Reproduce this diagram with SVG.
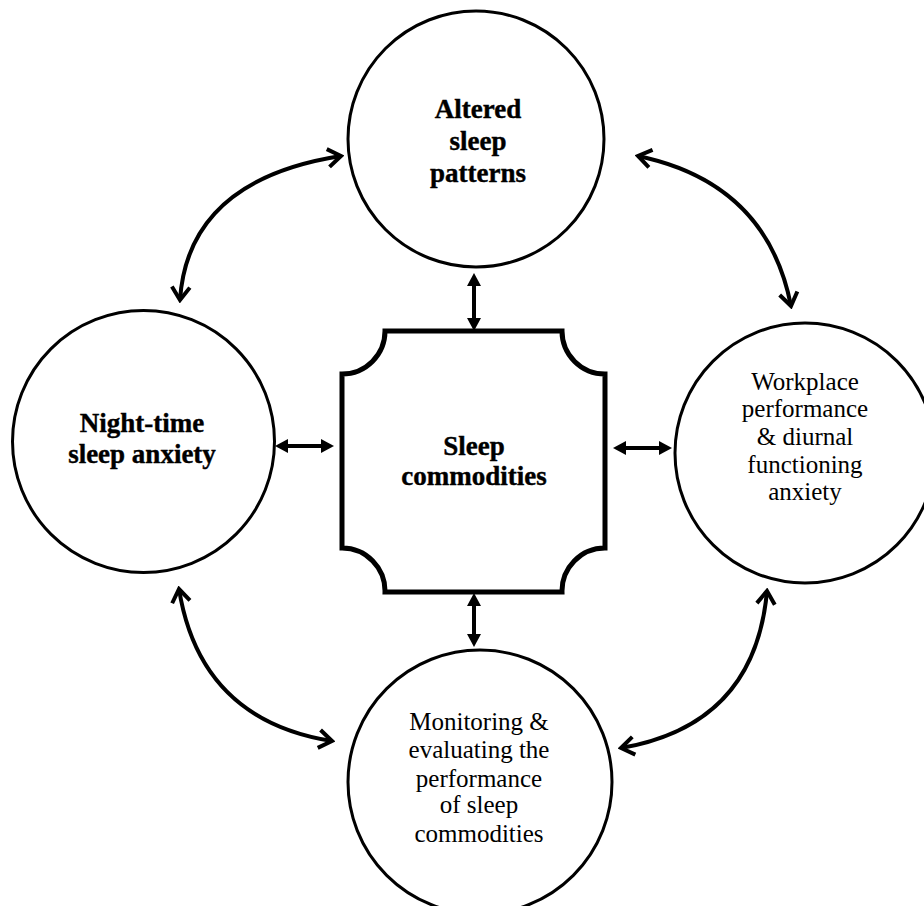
<svg xmlns="http://www.w3.org/2000/svg" width="924" height="906" viewBox="0 0 924 906">
<style>
.node{fill:#fff;stroke:#000;stroke-width:3}
.b{font-family:"Liberation Serif","Times New Roman",serif;font-weight:bold;font-size:27px;text-anchor:middle;fill:#000;stroke:#000;stroke-width:0.4}
.r{font-family:"Liberation Serif","Times New Roman",serif;font-size:25px;text-anchor:middle;fill:#000}
.straight{fill:none;stroke:#000;stroke-width:4;marker-start:url(#fa);marker-end:url(#fa)}
.curve{fill:none;stroke:#000;stroke-width:4;marker-start:url(#oa);marker-end:url(#oa)}
</style>
<defs>
<marker id="fa" viewBox="0 0 13 14" refX="2" refY="7" markerWidth="13" markerHeight="14" markerUnits="userSpaceOnUse" orient="auto-start-reverse">
<path d="M0,0 L13,7 L0,14 Z" fill="#000"/>
</marker>
<marker id="oa" viewBox="-3 -3 19 24" refX="13" refY="9" markerWidth="19" markerHeight="24" markerUnits="userSpaceOnUse" orient="auto-start-reverse">
<path d="M0,0 L13,9 L0,18" fill="none" stroke="#000" stroke-width="4"/>
</marker>
</defs>
<rect width="924" height="906" fill="#fff"/>
<g id="connectors">
<line class="straight" x1="474" y1="284" x2="474" y2="320"/>
<line class="straight" x1="474" y1="604" x2="474" y2="636"/>
<line class="straight" x1="286" y1="446" x2="323" y2="446"/>
<line class="straight" x1="624" y1="448" x2="661" y2="448"/>
<path class="curve" d="M180,300 Q188,180 341,156"/>
<path class="curve" d="M638,156 Q767,183 791,306"/>
<path class="curve" d="M179,589 Q200,720 332,741"/>
<path class="curve" d="M767,591 Q755,725 621,748"/>
</g>
<g id="altered">
<circle class="node" cx="476" cy="139" r="128"/>
<text class="b" x="478" y="118">Altered</text>
<text class="b" x="478" y="150">sleep</text>
<text class="b" x="478" y="182">patterns</text>
</g>
<g id="night">
<circle class="node" cx="143.5" cy="441.5" r="131"/>
<text class="b" x="142" y="432">Night-time</text>
<text class="b" x="142" y="463">sleep anxiety</text>
</g>
<g id="center">
<path d="M385,331 H562 A43,43 0 0 0 605,374 V548 A43,43 0 0 0 562,592 H385 A43,43 0 0 0 342,548 V374 A43,43 0 0 0 385,331 Z" fill="#fff" stroke="#000" stroke-width="5"/>
<text class="b" x="474" y="455">Sleep</text>
<text class="b" x="474" y="485">commodities</text>
</g>
<g id="workplace">
<circle class="node" cx="805" cy="453" r="130"/>
<text class="r" x="805" y="390">Workplace</text>
<text class="r" x="805" y="417">performance</text>
<text class="r" x="805" y="445">&amp; diurnal</text>
<text class="r" x="805" y="473">functioning</text>
<text class="r" x="805" y="500">anxiety</text>
</g>
<g id="monitoring">
<circle class="node" cx="480" cy="782" r="132"/>
<text class="r" x="479" y="730">Monitoring &amp;</text>
<text class="r" x="479" y="758">evaluating the</text>
<text class="r" x="479" y="787">performance</text>
<text class="r" x="479" y="813">of sleep</text>
<text class="r" x="479" y="842">commodities</text>
</g>
</svg>
